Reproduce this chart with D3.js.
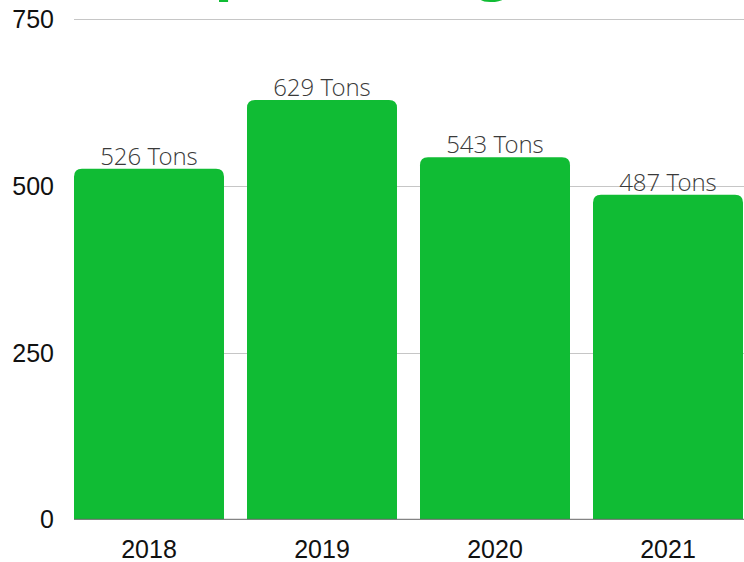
<!DOCTYPE html>
<meta charset="utf-8">
<title>Tons per year</title>
<style>
  html, body { margin: 0; padding: 0; background: #fff; }
  svg { display: block; }
</style>
<body>
<script src="https://d3js.org/d3.v7.min.js"></script>
<script>

const years = ["2018", "2019", "2020", "2021"];
const tons = [526, 629, 543, 487];
const yTicks = [0, 250, 500, 750];
const titleText = "Compost Usage";

const width = 744, height = 562;
const green = "#10bc34";

const svg = d3.select("body").append("svg")
    .attr("width", width)
    .attr("height", height);

const x = d3.scaleBand()
    .domain(years)
    .range([74, 743])
    .paddingInner(0.133)
    .paddingOuter(0);

const y = d3.scaleLinear()
    .domain([0, 750])
    .range([519.3, 19.3]);

// grid
svg.append("g")
  .selectAll("line")
  .data(yTicks.filter(d => d > 0))
  .join("line")
    .attr("x1", 74).attr("x2", width)
    .attr("y1", d => Math.round(y(d)) + 0.5)
    .attr("y2", d => Math.round(y(d)) + 0.5)
    .attr("stroke", "#c6c6c6")
    .attr("stroke-width", 1);

// y labels
svg.append("g")
  .selectAll("text")
  .data(yTicks)
  .join("text")
    .attr("x", 54)
    .attr("y", d => y(d))
    .attr("dy", "0.36em")
    .attr("text-anchor", "end")
    .attr("font-family", "Liberation Sans, Arial, sans-serif")
    .attr("font-size", 25)
    .attr("fill", "#111")
    .text(d => d);

// bars with rounded top
const r = 8;
function barPath(d, i) {
  const x0 = x(years[i]), x1 = x0 + x.bandwidth();
  const y0 = y(0), y1 = y(d);
  return `M${x0},${y0}V${y1 + r}Q${x0},${y1} ${x0 + r},${y1}H${x1 - r}Q${x1},${y1} ${x1},${y1 + r}V${y0}Z`;
}

svg.append("g")
  .selectAll("path")
  .data(tons)
  .join("path")
    .attr("d", barPath)
    .attr("fill", green);

// baseline
svg.append("line")
    .attr("x1", 74).attr("x2", width)
    .attr("y1", y(0)).attr("y2", y(0))
    .attr("stroke", "#666")
    .attr("stroke-width", 1);

// value labels
svg.append("g")
  .selectAll("text")
  .data(tons)
  .join("text")
    .attr("x", (d, i) => x(years[i]) + x.bandwidth() / 2)
    .attr("y", d => y(d) - 4)
    .attr("text-anchor", "middle")
    .attr("font-family", "'Open Sans Light', 'Open Sans', sans-serif")
    .attr("font-weight", 300)
    .attr("font-size", 24)
    .attr("fill", "#3a3a3a")
    .text(d => d + " Tons");

// x labels
svg.append("g")
  .selectAll("text")
  .data(years)
  .join("text")
    .attr("x", d => x(d) + x.bandwidth() / 2)
    .attr("y", 558)
    .attr("text-anchor", "middle")
    .attr("font-family", "Liberation Sans, Arial, sans-serif")
    .attr("font-size", 25)
    .attr("fill", "#111")
    .text(d => d);

// title, mostly above the visible area
const title = svg.append("text")
    .attr("x", 0)
    .attr("y", -12)
    .attr("font-family", "Open Sans, sans-serif")
    .attr("font-weight", 700)
    .attr("font-size", 56)
    .attr("fill", green)
    .text(titleText);

const node = title.node();
const pi = titleText.indexOf("p"), gi = titleText.indexOf("g");
const dist = node.getStartPositionOfChar(gi).x - node.getStartPositionOfChar(pi).x;
const fs = 56 * 262 / dist;
title.attr("font-size", fs).attr("y", -0.24 * fs + 1.5);
const px = node.getStartPositionOfChar(pi).x;
title.attr("x", 219 - px - 0.08 * fs);

</script>
</body>
